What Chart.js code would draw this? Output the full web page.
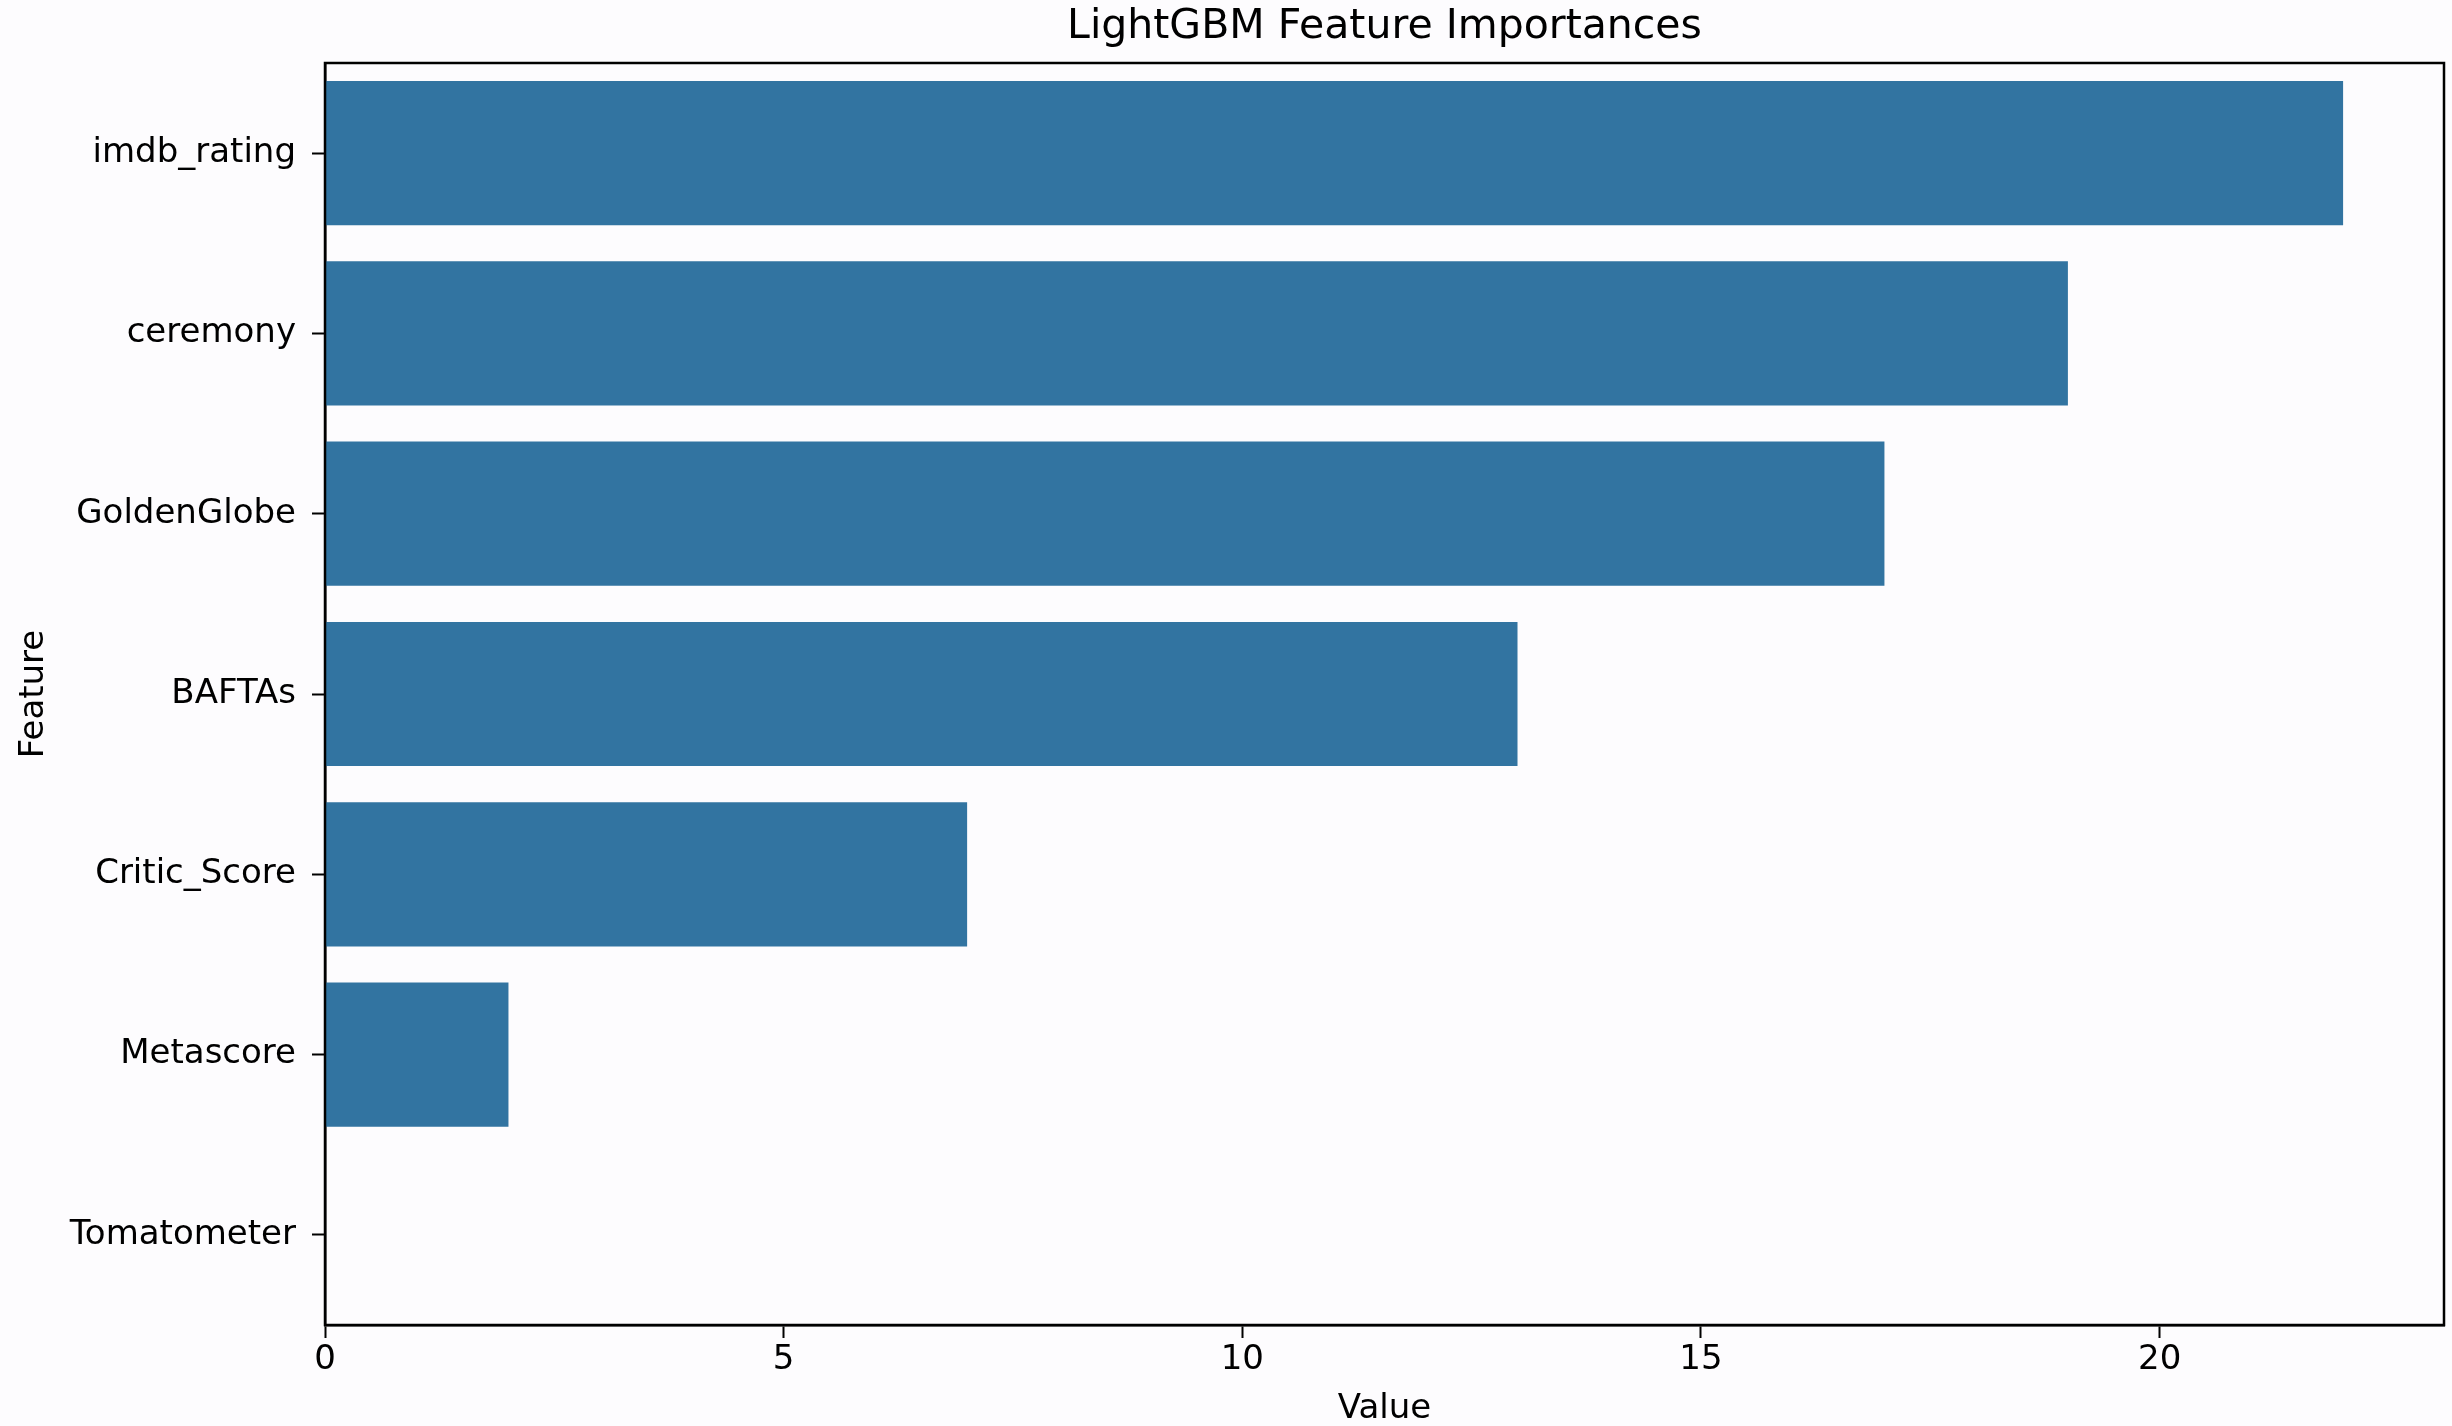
<!DOCTYPE html>
<html>
<head>
<meta charset="utf-8">
<script src="https://cdn.jsdelivr.net/npm/chart.js@4"></script>
<style>
  html, body { margin: 0; padding: 0; background: #fdfcfe; }
  #wrap { width: 2452px; height: 1426px; }
</style>
</head>
<body>
<div id="wrap"><canvas id="chart" width="2452" height="1426"></canvas></div>
<script>
const features = ["imdb_rating", "ceremony", "GoldenGlobe", "BAFTAs", "Critic_Score", "Metascore", "Tomatometer"];
const importances = [22, 19, 17, 13, 7, 2, 0];
const xTicks = [0, 5, 10, 15, 20];

const font = "'DejaVu Sans', sans-serif";

// matplotlib draws a full box around the axes
const frame = {
  id: "frame",
  afterDatasetsDraw(chart) {
    const { ctx, chartArea: a } = chart;
    ctx.save();
    ctx.strokeStyle = "#000";
    ctx.lineWidth = 2.5;
    ctx.strokeRect(a.left, a.top, a.right - a.left, a.bottom - a.top);
    ctx.restore();
  },
};

new Chart(document.getElementById("chart"), {
  type: "bar",
  data: {
    labels: features,
    datasets: [
      {
        label: "Value",
        data: importances,
        backgroundColor: "#3274a1",
        borderWidth: 0,
        barPercentage: 0.8,
        categoryPercentage: 1.0,
      },
    ],
  },
  options: {
    indexAxis: "y",
    responsive: false,
    animation: false,
    devicePixelRatio: 1,
    layout: { padding: { top: 0, right: 8, bottom: 0, left: 0 } },
    plugins: {
      legend: { display: false },
      tooltip: { enabled: false },
      title: {
        display: true,
        text: "LightGBM Feature Importances",
        fullSize: false,
        color: "#000",
        font: { family: font, size: 41, weight: "normal", lineHeight: 1 },
        padding: { top: 7, bottom: 15 },
      },
    },
    scales: {
      x: {
        type: "linear",
        min: 0,
        max: 23.1,
        afterFit: (scale) => { scale.height = 101; },
        afterBuildTicks: (scale) => { scale.ticks = xTicks.map((v) => ({ value: v })); },
        grid: {
          drawOnChartArea: false,
          drawTicks: true,
          tickLength: 13,
          tickColor: "#000",
          tickWidth: 2,
        },
        border: { display: true, color: "#000", width: 2.5 },
        ticks: {
          color: "#000",
          padding: 2,
          maxRotation: 0,
          font: { family: font, size: 34 },
        },
        title: {
          display: true,
          text: "Value",
          color: "#000",
          font: { family: font, size: 34, lineHeight: 1 },
          padding: { top: 0, bottom: 0 },
        },
      },
      y: {
        afterFit: (scale) => { scale.width = 325; },
        grid: {
          offset: false,
          drawOnChartArea: false,
          drawTicks: true,
          tickLength: 13,
          tickColor: "#000",
          tickWidth: 2,
        },
        border: { display: true, color: "#000", width: 2.5 },
        ticks: {
          color: "#000",
          padding: 16,
          font: { family: font, size: 34 },
        },
        title: {
          display: true,
          text: "Feature",
          color: "#000",
          font: { family: font, size: 34, lineHeight: 1 },
          padding: { top: 17, bottom: 0 },
        },
      },
    },
  },
  plugins: [frame],
});
</script>
</body>
</html>
